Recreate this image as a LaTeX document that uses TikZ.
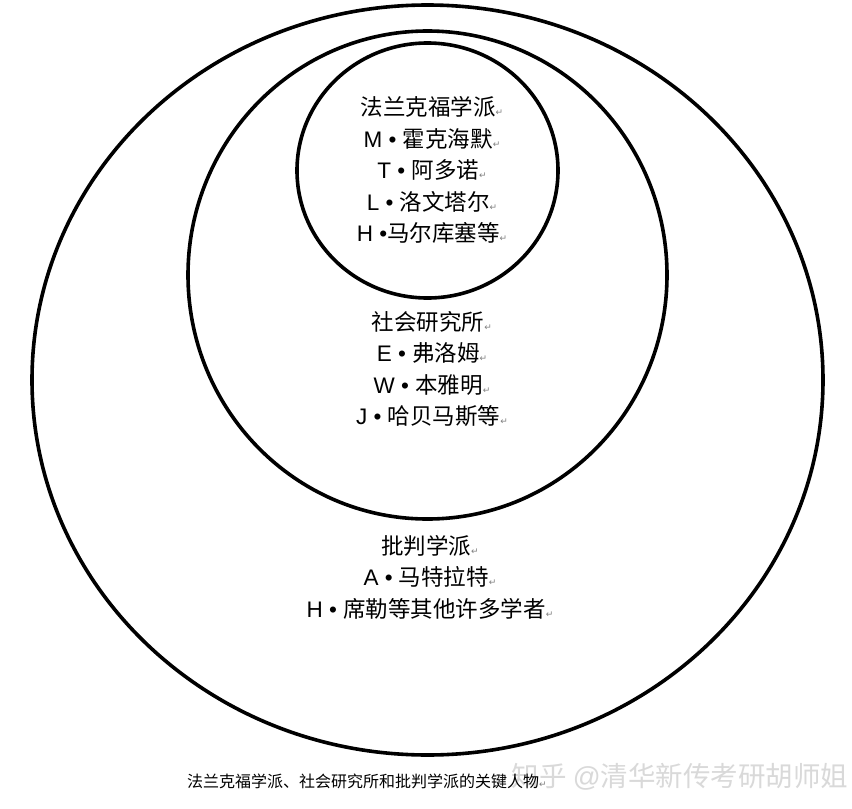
\documentclass[tikz,border=0pt]{standalone}
\usepackage{fontspec}
\usetikzlibrary{shapes.geometric}
\setmainfont{Noto Sans CJK SC}
\newfontfamily\lat{Liberation Sans}
\newfontfamily\symf{DejaVu Sans}
\newcommand{\rt}{{\symf\color{gray}\fontsize{9}{9}\selectfont ↵}}
\newcommand{\pn}[2]{{\lat #1 • }#2}
\begin{document}
\begin{tikzpicture}[x=1pt,y=-1pt,
  ring/.style={draw=black,line width=3.6pt,ellipse,inner sep=0pt},
  block/.style={align=center,inner sep=0pt,font=\fontsize{22.5}{31.5}\selectfont},
  captext/.style={inner sep=0pt,font=\fontsize{16}{16}\selectfont},
  wmark/.style={inner sep=0pt,text=gray!30,font=\fontsize{27.5}{27.5}\selectfont}]
\useasboundingbox[fill=white] (0,0) rectangle (852,809);
\node[ring,minimum width=791pt,minimum height=750pt] (outer) at (427.5,380) {};
\node[ring,minimum width=479pt,minimum height=488pt] (middle) at (427.5,275) {};
\node[ring,minimum width=261pt,minimum height=255pt] (inner) at (427.5,170.5) {};
\node[block] (tinner) at (432,170) {法兰克福学派\rt\\ \pn{M}{霍克海默}\rt\\ \pn{T}{阿多诺}\rt\\ \pn{L}{洛文塔尔}\rt\\ {\lat H •}马尔库塞等\rt};
\node[block] (tmiddle) at (432,369) {社会研究所\rt\\ \pn{E}{弗洛姆}\rt\\ \pn{W}{本雅明}\rt\\ \pn{J}{哈贝马斯等}\rt};
\node[block] (touter) at (430,577) {批判学派\rt\\ \pn{A}{马特拉特}\rt\\ \pn{H}{席勒等其他许多学者}\rt};
\node[wmark] (wm) at (680,777) {知乎 {\lat @}清华新传考研胡师姐};
\node[captext] (caption) at (367,781) {法兰克福学派、社会研究所和批判学派的关键人物\rt};
\end{tikzpicture}
\end{document}
